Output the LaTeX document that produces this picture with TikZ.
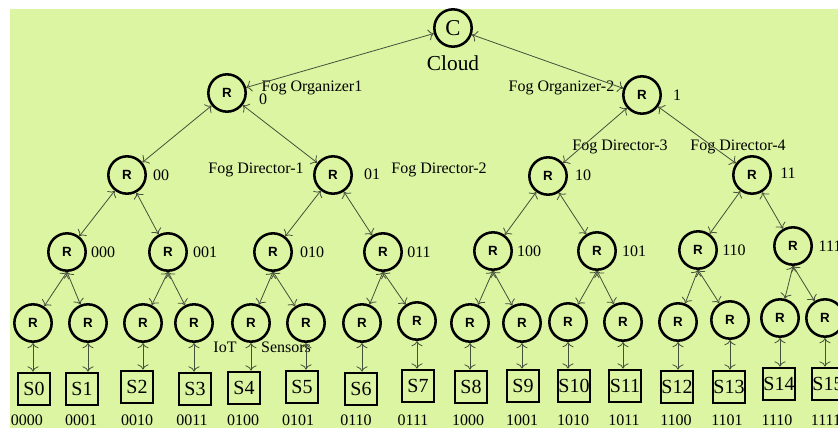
\documentclass[tikz,border=0pt]{standalone}
\usepackage{fontspec}
\setmainfont{Liberation Serif}
\newfontfamily\routerfont{Liberation Sans}
\usetikzlibrary{arrows.meta}
\definecolor{fogbg}{HTML}{DCF5A2}
\definecolor{linkline}{HTML}{44503A}

\begin{document}
\begin{tikzpicture}[x=0.75pt, y=-0.75pt, font=\fontsize{12}{14}\selectfont,
  router/.style={circle, draw=black, line width=1.9pt, minimum size=28pt,
    inner sep=0pt, font=\routerfont\bfseries\fontsize{10}{12}\selectfont},
  sensor/.style={draw=black, line width=1.5pt, minimum size=24.5pt,
    inner sep=0pt, font=\fontsize{15}{17}\selectfont},
  link/.style={linkline, line width=0.6pt, {To[length=4pt]}-{To[length=4pt]}}]
  \useasboundingbox (0,0) rectangle (838,428);
  \fill[fogbg] (10,9) rectangle (838,428);

  % cloud and fog organizers
  \node[router, font=\fontsize{17}{20}\selectfont] (c) at (453,28) {C};
  \node[font=\fontsize{16}{19}\selectfont] (cloud) at (453,63) {Cloud};
  \node[router] (r0) at (227,93) {R};
  \node[router] (r1) at (642,95) {R};
  \node (t0) at (263,99) {0};
  \node (t1) at (677,95) {1};
  \node[anchor=west] (fo1) at (257,88) {Fog Organizer1};
  \node[anchor=east] (fo2) at (619,88) {Fog Organizer-2};

  % fog directors
  \node[router] (r00) at (127,175) {R};
  \node[router] (r01) at (333,175) {R};
  \node[router] (r10) at (548,176) {R};
  \node[router] (r11) at (752,175) {R};
  \node (t00) at (161,175) {00};
  \node (t01) at (372,174) {01};
  \node (t10) at (583,175) {10};
  \node (t11) at (788,173) {11};
  \node (fd1) at (256,170) {Fog Director-1};
  \node (fd2) at (439,170) {Fog Director-2};
  \node (fd3) at (620,147) {Fog Director-3};
  \node (fd4) at (738,147) {Fog Director-4};

  % third level
  \foreach \n/\x/\y/\tx in {000/67/252/103, 001/168/252/205, 010/273/252/312,
      011/383/252/419, 100/493/251/529, 101/597/251/634, 110/698/250/734}
    \node[router] (r\n) at (\x,\y) {R} (\tx,\y) node (t\n) {\n};
  \node[router] (r111) at (793,246) {R};
  \node[anchor=west] (t111) at (814,246) {111};

  % routers above the sensors
  \foreach \n/\x/\y in {0/33/323, 1/88/323, 2/143/323, 3/194/323, 4/251/323,
      5/306/323, 6/362/323, 7/417/321, 8/470/323, 9/522/323, 10/568/322,
      11/623/322, 12/678/322, 13/730/320, 14/780/318, 15/825/318}
    \node[router] (l\n) at (\x,\y) {R};

  % IoT sensors
  \foreach \n/\x/\y in {0/34/389, 1/82/389, 2/137/387, 3/195/389, 4/244/388,
      5/302/387, 6/361/389, 7/418/386, 8/471/387, 9/523/386, 10/574/386,
      11/625/386, 12/677/387, 13/729/387, 14/779/384, 15/828/384}
    \node[sensor] (s\n) at (\x,\y) {S\n};
  \node (iot) at (225,347) {IoT};
  \node (sens) at (286,347) {Sensors};

  \foreach \n/\x/\t in {0/27/0000, 1/81/0001, 2/137/0010, 3/192/0011,
      4/243/0100, 5/298/0101, 6/356/0110, 7/413/0111, 8/468/1000,
      9/522/1001, 10/573/1010, 11/624/1011, 12/676/1100, 13/727/1101,
      14/777/1110, 15/826/1111}
    \node (b\n) at (\x,420) {\t};

  % links
  \draw[link] (c) -- (r0);
  \draw[link] (c) -- (r1);
  \foreach \p/\a/\b in {0/00/01, 1/10/11, 00/000/001, 01/010/011,
      10/100/101, 11/110/111} {
    \draw[link] (r\p) -- (r\a);
    \draw[link] (r\p) -- (r\b);
  }
  \foreach \p/\a/\b in {000/0/1, 001/2/3, 010/4/5, 011/6/7,
      100/8/9, 101/10/11, 110/12/13, 111/14/15} {
    \draw[link] (r\p.south) -- (l\a);
    \draw[link] (r\p.south) -- (l\b);
  }
  \foreach \n in {0,...,15}
    \draw[link] (l\n) -- (l\n |- s\n.north);
\end{tikzpicture}
\end{document}
